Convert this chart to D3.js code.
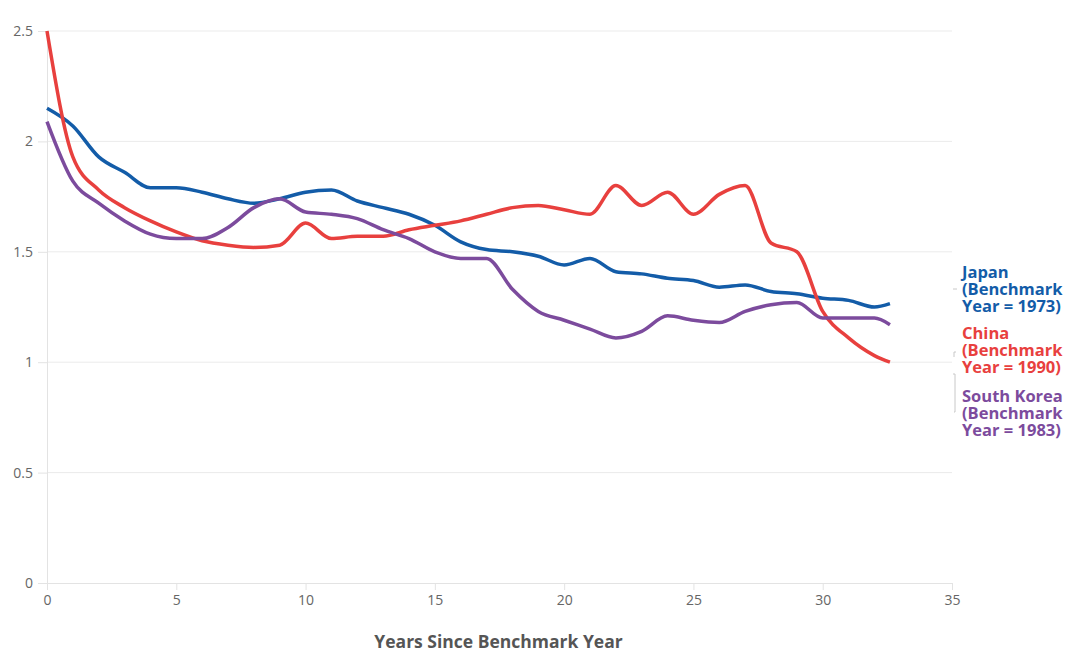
<!DOCTYPE html>
<html>
<head>
<meta charset="utf-8">
<script src="https://cdn.jsdelivr.net/npm/d3@7"></script>
<style>
  body { margin: 0; background: #fff; }
  svg text { font-family: "Open Sans", "Noto Sans", sans-serif; }
  .tick text { fill: #666; font-size: 14px; }
  .label { font-weight: 700; font-size: 16.5px; }
</style>
</head>
<body>
<svg id="chart" width="1068" height="653"></svg>
<script>
'use strict'

// years since benchmark, last point is a partial year
let years = [0,1,2,3,4,5,6,7,8,9,10,11,12,13,14,15,16,17,18,19,20,21,22,23,24,25,26,27,28,29,30,31,32,32.6]

let japan = [2.15,2.07,1.93,1.86,1.79,1.79,1.77,1.74,1.72,1.74,1.77,1.78,1.73,1.70,1.67,1.62,1.545,1.51,1.50,1.48,1.44,1.47,1.41,1.40,1.38,1.37,1.34,1.35,1.32,1.31,1.29,1.28,1.25,1.265]
let china = [2.50,1.93,1.78,1.70,1.64,1.59,1.55,1.53,1.52,1.53,1.63,1.56,1.57,1.57,1.60,1.62,1.64,1.67,1.70,1.71,1.69,1.67,1.80,1.71,1.77,1.67,1.76,1.80,1.54,1.50,1.23,1.11,1.03,1.00]
let korea = [2.09,1.82,1.72,1.64,1.58,1.56,1.56,1.61,1.70,1.74,1.68,1.67,1.65,1.60,1.56,1.50,1.47,1.47,1.33,1.23,1.19,1.15,1.11,1.14,1.21,1.19,1.18,1.23,1.26,1.27,1.20,1.20,1.20,1.17]

let xTicks = [0,5,10,15,20,25,30,35]
let yTicks = [0,0.5,1,1.5,2,2.5]

let series = [
  { name: 'Japan', lines: ['Japan', '(Benchmark', 'Year = 1973)'], values: japan, color: '#135ca8' },
  { name: 'China', lines: ['China', '(Benchmark', 'Year = 1990)'], values: china, color: '#e8403e' },
  { name: 'South Korea', lines: ['South Korea', '(Benchmark', 'Year = 1983)'], values: korea, color: '#7c4b9d' }
]

let margin = { top: 31, right: 116, bottom: 70, left: 47 }
let width = 1068 - margin.left - margin.right
let height = 653 - margin.top - margin.bottom

let svg = d3.select('#chart')
let g = svg.append('g')
  .attr('transform', 'translate(' + margin.left + ',' + margin.top + ')')

let xScale = d3.scaleLinear().domain([0, 35]).range([0, width])
let yScale = d3.scaleLinear().domain([0, 2.5]).range([height, 0])

// horizontal grid
g.append('g')
  .selectAll('line')
  .data(yTicks.filter(d => d > 0))
  .enter()
  .append('line')
    .attr('x1', 0)
    .attr('x2', width)
    .attr('y1', d => yScale(d))
    .attr('y2', d => yScale(d))
    .attr('stroke', '#ebebeb')
    .attr('stroke-width', 1)

let yAxis = g.append('g')
  .attr('class', 'y axis')
  .call(d3.axisLeft(yScale).tickValues(yTicks).tickFormat(d3.format('')).tickSize(9).tickPadding(5))
yAxis.select('.domain').attr('stroke', '#e3e3e3')
yAxis.selectAll('.tick line').attr('stroke', '#e3e3e3')

let xAxis = g.append('g')
  .attr('class', 'x axis')
  .attr('transform', 'translate(0,' + height + ')')
  .call(d3.axisBottom(xScale).tickValues(xTicks).tickSize(7).tickPadding(5).tickSizeOuter(0))
xAxis.select('.domain').attr('stroke', '#e3e3e3')
xAxis.selectAll('.tick line').attr('stroke', '#e3e3e3')

g.append('text')
  .text('Years Since Benchmark Year')
  .attr('x', xScale(17.5) - 1)
  .attr('y', height + 65)
  .attr('text-anchor', 'middle')
  .attr('fill', '#555')
  .attr('font-size', 17.5)
  .attr('font-weight', 700)

let line = d3.line()
  .x((d, i) => xScale(years[i]))
  .y(d => yScale(d))
  .curve(d3.curveMonotoneX)

g.selectAll('.series')
  .data(series)
  .enter()
  .append('path')
    .attr('class', 'series')
    .attr('fill', 'none')
    .attr('stroke', d => d.color)
    .attr('stroke-width', 3.5)
    .attr('stroke-linejoin', 'round')
    .attr('d', d => line(d.values))

// end labels
let labelTop = [278, 339, 402]
series.forEach((s, k) => {
  let t = g.append('text')
    .attr('class', 'label')
    .attr('fill', s.color)
    .attr('x', width + 10)
    .attr('y', labelTop[k] - margin.top)
  s.lines.forEach((l, j) => {
    t.append('tspan')
      .attr('x', width + 10)
      .attr('dy', j == 0 ? 0 : 17)
      .text(l)
  })
})

// leader marks from line ends to labels
let lead = g.append('g').attr('stroke', '#c8c8c8').attr('fill', 'none').attr('stroke-width', 1)
lead.append('path').attr('d', 'M' + (width + 1) + ',' + (289 - margin.top) + 'h4')
lead.append('path').attr('d', 'M' + (width + 2) + ',' + (357 - margin.top) + 'v-5h2')
lead.append('path').attr('d', 'M' + (width + 1) + ',' + (374 - margin.top) + 'h2v38h-1')
</script>
</body>
</html>
